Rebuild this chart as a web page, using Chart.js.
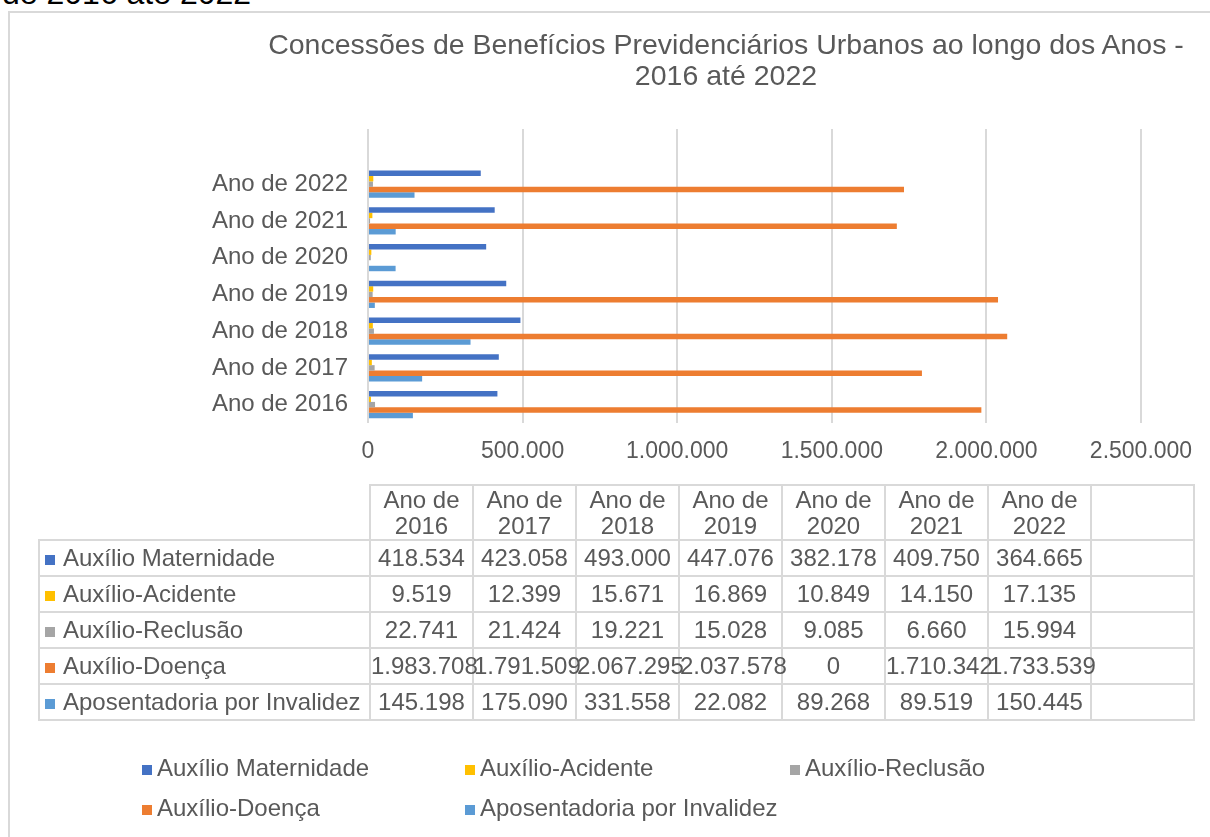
<!DOCTYPE html>
<html>
<head>
<meta charset="utf-8">
<script src="https://cdn.jsdelivr.net/npm/chart.js@4.4.0/dist/chart.umd.min.js"></script>
<style>
  body { margin: 0; background: #fff; overflow: hidden; }
  #page { position: relative; width: 1210px; height: 837px; overflow: hidden; font-family: "Liberation Sans", Arial, sans-serif; color: #595959; }
  #frame { position: absolute; left: 8px; top: 11px; width: 1230px; height: 860px; border: 2px solid #d9d9d9; box-sizing: border-box; }
  #above { position: absolute; left: 2px; top: -23px; font-size: 32px; line-height: 32px; color: #000; white-space: nowrap; }
  #chart { position: absolute; left: 0; top: 0; }
  #title { position: absolute; left: 226px; width: 1000px; top: 29px; text-align: center; font-size: 28.5px; line-height: 31px; }
  #datatable { position: absolute; left: 38px; top: 484px; width: 1155px; border-collapse: collapse; table-layout: fixed; font-size: 24px; }
  #datatable td, #datatable th { border: 2px solid #d9d9d9; padding: 0; white-space: nowrap; overflow: visible; font-weight: normal; text-align: center; height: 34px; }
  #datatable th { height: 53px; line-height: 26px; }
  #datatable th.corner { border-top: none; border-left: none; }
  #datatable td.lbl { text-align: left; padding-left: 5px; }
  .key { display: inline-block; width: 10px; height: 10px; margin-right: 8px; vertical-align: 1px; }
  #legend { position: absolute; left: 0; top: 0; font-size: 24px; }
  .item { position: absolute; white-space: nowrap; line-height: 26px; }
  .item .key { margin-right: 5px; }
</style>
</head>
<body>
<div id="page">
  <div id="above">de 2016 até 2022</div>
  <div id="frame"></div>
  <canvas id="chart" width="1210" height="837"></canvas>
  <div id="title">Concessões de Benefícios Previdenciários Urbanos ao longo dos Anos -<br>2016 até 2022</div>
  <table id="datatable"></table>
  <div id="legend"></div>
</div>
<script>
const years = ["Ano de 2016", "Ano de 2017", "Ano de 2018", "Ano de 2019", "Ano de 2020", "Ano de 2021", "Ano de 2022"];
const seriesNames = ["Auxílio Maternidade", "Auxílio-Acidente", "Auxílio-Reclusão", "Auxílio-Doença", "Aposentadoria por Invalidez"];
const maternidade = [418534, 423058, 493000, 447076, 382178, 409750, 364665];
const acidente = [9519, 12399, 15671, 16869, 10849, 14150, 17135];
const reclusao = [22741, 21424, 19221, 15028, 9085, 6660, 15994];
const doenca = [1983708, 1791509, 2067295, 2037578, 0, 1710342, 1733539];
const aposentadoria = [145198, 175090, 331558, 22082, 89268, 89519, 150445];
const xMax = 2500000;
const xStep = 500000;

const seriesColors = ["#4472C4", "#FFC000", "#A5A5A5", "#ED7D31", "#5B9BD5"];
const allSeries = [maternidade, acidente, reclusao, doenca, aposentadoria];

function fmt(v) {
    return String(v).replace(/\B(?=(\d{3})+(?!\d))/g, ".");
}

// the excel chart has one extra blank category at the top
const labels = years.concat([""]);

const fontFamily = '"Liberation Sans", Arial, sans-serif';

new Chart(document.getElementById("chart"), {
    type: "bar",
    data: {
        labels: labels,
        datasets: allSeries.map(function (vals, i) {
            return { label: seriesNames[i], data: vals, backgroundColor: seriesColors[i],
                     barPercentage: 1.0, categoryPercentage: 0.74 };
        })
    },
    options: {
        indexAxis: "y",
        responsive: false,
        animation: false,
        devicePixelRatio: 1,
        layout: { padding: { left: 0, right: 69, top: 129, bottom: 364 } },
        plugins: { legend: { display: false }, tooltip: { enabled: false }, title: { display: false } },
        scales: {
            x: {
                min: 0, max: xMax,
                ticks: { stepSize: xStep, color: "#595959", font: { family: fontFamily, size: 23 }, padding: 15, maxRotation: 0,
                         callback: function (v) { return fmt(v); } },
                grid: { color: "#d9d9d9", lineWidth: 2, drawTicks: false },
                border: { display: false },
                afterFit: function (s) { s.height = 50; }
            },
            y: {
                reverse: true,
                ticks: { color: "#595959", font: { family: fontFamily, size: 24 }, padding: 20 },
                grid: { display: false, drawTicks: false },
                border: { display: false },
                afterFit: function (s) { s.width = 368; }
            }
        }
    }
});

// data table under the chart
const table = document.getElementById("datatable");
let html = '<colgroup><col style="width:331px">';
for (let i = 0; i < labels.length; i++) html += '<col style="width:103px">';
html += '</colgroup><tr><th class="corner"></th>';
labels.forEach(function (l) {
    const parts = l.split(" ");
    html += "<th>" + (l ? parts.slice(0, 2).join(" ") + "<br>" + parts[2] : "") + "</th>";
});
html += "</tr>";
allSeries.forEach(function (vals, i) {
    html += '<tr><td class="lbl"><span class="key" style="background:' + seriesColors[i] + '"></span>' + seriesNames[i] + "</td>";
    for (let j = 0; j < labels.length; j++) {
        html += "<td>" + (j < vals.length ? fmt(vals[j]) : "") + "</td>";
    }
    html += "</tr>";
});
table.innerHTML = html;

// legend in three columns
const legend = document.getElementById("legend");
const legX = [142, 465, 790];
const legY = [755, 795];
seriesNames.forEach(function (name, i) {
    const d = document.createElement("div");
    d.className = "item";
    d.style.left = legX[i % 3] + "px";
    d.style.top = legY[Math.floor(i / 3)] + "px";
    d.innerHTML = '<span class="key" style="background:' + seriesColors[i] + '"></span>' + name;
    legend.appendChild(d);
});
</script>
</body>
</html>
